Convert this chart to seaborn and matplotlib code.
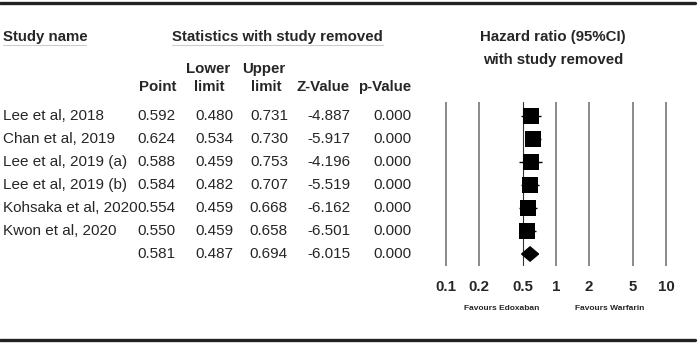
import numpy as np
import pandas as pd
import matplotlib
matplotlib.use('Agg')
import matplotlib.pyplot as plt
import seaborn as sns

# leave-one-out sensitivity analysis
studies = ['Lee et al, 2018', 'Chan et al, 2019', 'Lee et al, 2019 (a)',
           'Lee et al, 2019 (b)', 'Kohsaka et al, 2020', 'Kwon et al, 2020']
point = [0.592, 0.624, 0.588, 0.584, 0.554, 0.550]
lower = [0.480, 0.534, 0.459, 0.482, 0.459, 0.459]
upper = [0.731, 0.730, 0.753, 0.707, 0.668, 0.658]
zval = [-4.887, -5.917, -4.196, -5.519, -6.162, -6.501]
pval = [0.000, 0.000, 0.000, 0.000, 0.000, 0.000]

# overall
pooled = [0.581, 0.487, 0.694, -6.015, 0.000]

ticks = [0.1, 0.2, 0.5, 1, 2, 5, 10]
tick_labels = ['0.1', '0.2', '0.5', '1', '2', '5', '10']

sns.set_theme(style='white')
plt.rcParams['font.family'] = ['Liberation Sans', 'DejaVu Sans']

W, H = 699, 343
fig = plt.figure(figsize=(W / 100, H / 100), dpi=100)

# text layer in pixel coords
tx = fig.add_axes([0, 0, 1, 1])
tx.set_xlim(0, W)
tx.set_ylim(H, 0)
tx.axis('off')

tx.plot([0, 695], [3, 3], color='#222222', lw=2.4)
tx.plot([0, 695], [340, 340], color='#222222', lw=2.4)

fs = 11
hfs = 10.8
tx.text(3, 37, 'Study name', fontsize=hfs, weight='bold', va='center')
tx.plot([3, 86], [45, 45], color='#cccccc', lw=0.8)
tx.text(277, 37, 'Statistics with study removed', fontsize=hfs, weight='bold',
        va='center', ha='center')
tx.plot([172, 383], [45, 45], color='#cccccc', lw=0.8)
tx.text(553, 37, 'Hazard ratio (95%CI)', fontsize=hfs, weight='bold',
        va='center', ha='center')
tx.text(553, 60, 'with study removed', fontsize=hfs, weight='bold',
        va='center', ha='center')

tx.text(176, 87, 'Point', fontsize=hfs, weight='bold', va='center', ha='right')
tx.text(208, 69, 'Lower', fontsize=hfs, weight='bold', va='center', ha='center')
tx.text(209, 87, 'limit', fontsize=hfs, weight='bold', va='center', ha='center')
tx.text(264, 69, 'Upper', fontsize=hfs, weight='bold', va='center', ha='center')
tx.text(266, 87, 'limit', fontsize=hfs, weight='bold', va='center', ha='center')
tx.text(350, 87, 'Z-Value', fontsize=hfs, weight='bold', va='center', ha='right')
tx.text(411, 87, 'p-Value', fontsize=hfs, weight='bold', va='center', ha='right')

row_y0, row_dy = 116, 23
names = studies + ['']
rows = list(zip(point, lower, upper, zval, pval)) + [tuple(pooled)]
col_x = [176, 233, 288, 350, 411]
for i, (nm, vals) in enumerate(zip(names, rows)):
    y = row_y0 + row_dy * i
    tx.text(3, y, nm, fontsize=fs, va='center')
    for cx, v in zip(col_x, vals):
        tx.text(cx, y, f'{v:.3f}', fontsize=fs, va='center', ha='right')

# forest axes: 0.1 at x=446 px, 10 at x=666 px (110 px per decade)
pad = 10 / 110
x_left, x_right = 436, 676
y_top, y_bot = 102, 266
fa = fig.add_axes([x_left / W, 1 - y_bot / H, (x_right - x_left) / W, (y_bot - y_top) / H])
fa.set_xscale('log')
fa.set_xlim(10 ** (-1 - pad), 10 ** (1 + pad))
fa.set_ylim((y_bot - row_y0) / row_dy, (y_top - row_y0) / row_dy)
fa.patch.set_alpha(0)
for s in fa.spines.values():
    s.set_visible(False)
fa.set_yticks([])

for t in ticks:
    if t == 0.5:
        fa.axvline(t, color='#333333', lw=0.8, zorder=1)
    else:
        fa.axvline(t, color='#8a8a8a', lw=1.4, zorder=1)

df = pd.DataFrame({'study': studies, 'point': point, 'lower': lower,
                   'upper': upper, 'row': np.arange(len(studies))})
fa.hlines(df['row'], df['lower'], df['upper'], color='black', lw=1, zorder=2)
sns.scatterplot(data=df, x='point', y='row', marker='s', s=145, color='black',
                edgecolor='black', linewidth=0, ax=fa, zorder=3, legend=False)

pr = len(studies)
fa.fill([pooled[1], pooled[0], pooled[2], pooled[0]],
        [pr, pr - 0.31, pr, pr + 0.31], color='black', zorder=3)

fa.set_xticks(ticks)
fa.set_xticklabels(tick_labels, fontsize=hfs, weight='bold')
fa.xaxis.set_minor_locator(matplotlib.ticker.NullLocator())
fa.tick_params(axis='x', length=0, pad=10)
fa.set_xlabel('')
fa.set_ylabel('')

tx.text(502, 309, 'Favours Edoxaban', fontsize=6, weight='bold', va='center', ha='center')
tx.text(610, 309, 'Favours Warfarin', fontsize=6, weight='bold', va='center', ha='center')

fig.savefig('out.png', dpi=100)
